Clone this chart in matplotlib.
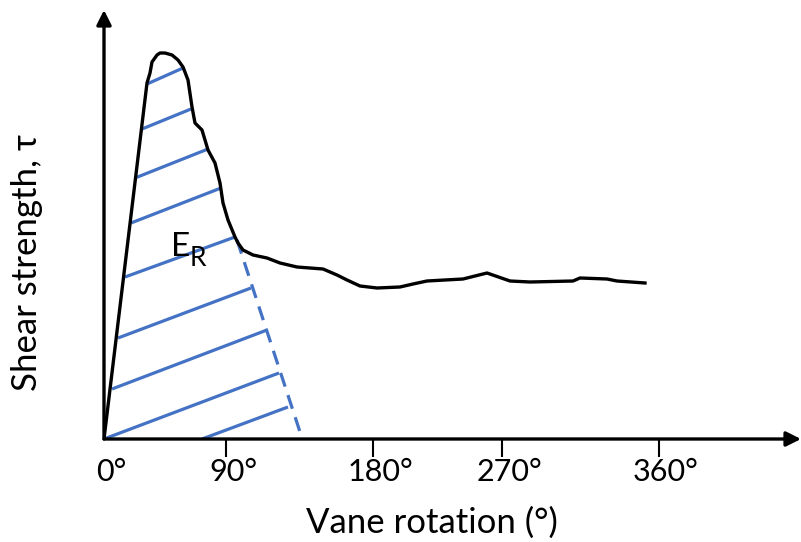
"""
Sketch of a vane shear test: shear strength against vane rotation, with the
residual energy E_R hatched under the peak.
"""

import matplotlib
matplotlib.use('Agg')
from matplotlib import pyplot as plt
import matplotlib.transforms as mtransforms

# DATA (schematic drawing units, origin at the axis corner)
# ----------------------
curve_x = [0, 43, 46, 48, 53, 56, 61, 68, 74, 79, 84, 88, 91, 98, 104, 111,
           116, 119, 124, 131, 134, 139, 149, 163, 176, 193, 219, 233, 243,
           256, 273, 296, 309, 323, 359, 383, 406, 426, 469, 476, 503, 513, 541]
curve_y = [0, 356, 366, 377, 384, 386, 386, 384, 379, 372, 359, 332, 316, 309,
           289, 276, 256, 236, 219, 202, 196, 189, 184, 181, 176, 172, 170, 164,
           159, 153, 151, 152, 155, 158, 160, 166, 158, 157, 158, 161, 160, 158,
           156]

# hatch lines: start (x0, y0) -> end (x1, y1)
hatch_x0 = [43, 38, 31, 27, 21, 14, 8, 0, 98]
hatch_y0 = [355, 310, 261, 216, 162, 101, 50, 0, 0]
hatch_x1 = [79, 87, 104, 117, 131, 147, 163, 175, 184]
hatch_y1 = [371, 330, 290, 251, 202, 151, 109, 66, 32]

# dashed closing line of the hatched area
dash_x = [133, 198]
dash_y = [199, 1]

tick_pos = [0, 122, 269, 398, 555]
tick_labels = ['0°', '90°', '180°', '270°', '360°']

BLUE = '#4472C4'
FONT = ['Lato', 'DejaVu Sans']

# PLOT
# ----------------------
plt.rcParams['font.family'] = FONT
fig = plt.figure(figsize=(8.01, 5.42), dpi=100)
ax = fig.add_axes([104 / 801, 103 / 542, 697 / 801, 429 / 542])
ax.set_xlim(0, 697)
ax.set_ylim(0, 429)

for x0, y0, x1, y1 in zip(hatch_x0, hatch_y0, hatch_x1, hatch_y1):
    ax.plot([x0, x1], [y0, y1], color=BLUE, lw=2.3, solid_capstyle='butt')
ax.plot(dash_x, dash_y, color=BLUE, lw=2.3, dashes=(4.5, 2.8))
ax.plot(curve_x, curve_y, color='black', lw=2.4, solid_joinstyle='round')

# E_R label
ax.text(67, 183, 'E', fontsize=24, ha='left', va='baseline')
ax.text(86, 173, 'R', fontsize=19, ha='left', va='baseline')

# axes as arrows
for s in ax.spines.values():
    s.set_visible(False)
ax.annotate('', xy=(1, 0), xytext=(0, 0), xycoords='axes fraction',
            arrowprops=dict(arrowstyle='-|>', lw=2.4, color='black',
                            mutation_scale=22, shrinkA=0, shrinkB=0),
            annotation_clip=False)
ax.annotate('', xy=(0, 1), xytext=(0, 0), xycoords='axes fraction',
            arrowprops=dict(arrowstyle='-|>', lw=2.4, color='black',
                            mutation_scale=22, shrinkA=0, shrinkB=0),
            annotation_clip=False)

ax.set_yticks([])
ax.set_xticks(tick_pos)
ax.set_xticklabels(tick_labels, fontsize=22)
ax.tick_params(axis='x', direction='out', length=13, width=1.5, pad=1)
ax.xaxis.get_major_ticks()[0].tick1line.set_visible(False)
offset = mtransforms.ScaledTranslation(7 / 100, 0, fig.dpi_scale_trans)
for lab in ax.get_xticklabels():
    lab.set_transform(lab.get_transform() + offset)

fig.text(432 / 801, 1 - 533 / 542, 'Vane rotation (°)', fontsize=25,
         ha='center', va='baseline')
fig.text(27 / 801, 1 - 262 / 542, 'Shear strength, τ', fontsize=25,
         ha='center', va='center', rotation=90)

fig.savefig('out.png', dpi=100)
